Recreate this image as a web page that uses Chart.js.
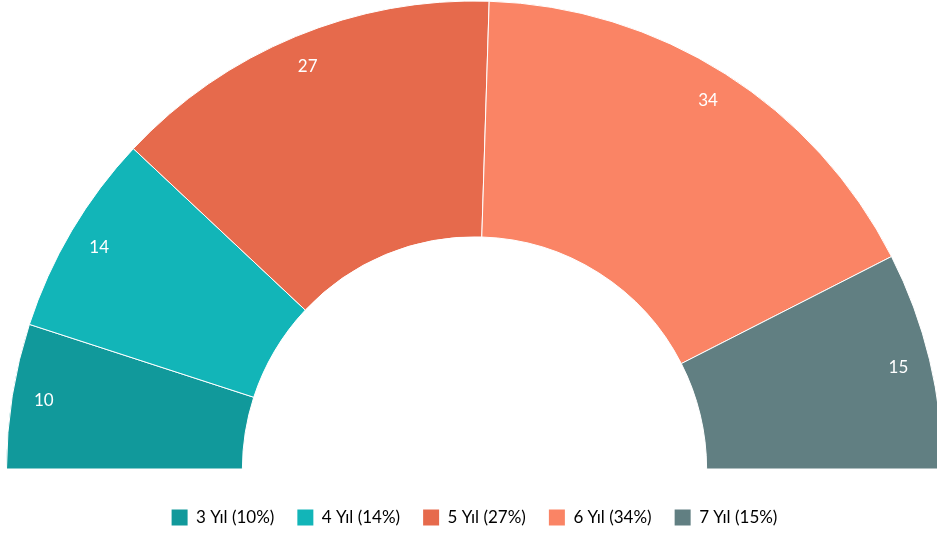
<!DOCTYPE html>
<html>
<head>
<meta charset="utf-8">
<script src="https://cdn.jsdelivr.net/npm/chart.js@4"></script>
<style>
  html, body { margin: 0; padding: 0; background: #fff; }
  #wrap { width: 937px; height: 536px; }
</style>
</head>
<body>
<div id="wrap"><canvas id="c" width="937" height="536"></canvas></div>
<script>
const categories = ['3 Yıl', '4 Yıl', '5 Yıl', '6 Yıl', '7 Yıl'];
const values = [10, 14, 27, 34, 15];
const colors = ['#11999b', '#12b5b8', '#e66a4c', '#fa8465', '#617f82'];

const total = values.reduce((a, b) => a + b, 0);

// keep the half-ring's area a bit above the legend, like the reference
const areaFit = {
  id: 'areaFit',
  afterLayout(chart) {
    chart.chartArea.top = 0;
    chart.chartArea.bottom = 470;
    chart.chartArea.height = 470;
  }
};

const valueLabels = {
  id: 'valueLabels',
  afterDatasetsDraw(chart) {
    const ctx = chart.ctx;
    const meta = chart.getDatasetMeta(0);
    ctx.save();
    ctx.fillStyle = '#ffffff';
    ctx.font = '17px Lato';
    ctx.textAlign = 'center';
    ctx.textBaseline = 'middle';
    meta.data.forEach((arc, i) => {
      const p = arc.getProps(['x', 'y', 'startAngle', 'endAngle', 'outerRadius'], true);
      const mid = (p.startAngle + p.endAngle) / 2;
      const r = p.outerRadius - 32;
      ctx.fillText(String(chart.data.datasets[0].data[i]), p.x + Math.cos(mid) * r, p.y + Math.sin(mid) * r);
    });
    ctx.restore();
  }
};

new Chart(document.getElementById('c'), {
  type: 'doughnut',
  data: {
    labels: categories,
    datasets: [{
      data: values,
      backgroundColor: colors,
      borderColor: '#ffffff',
      borderWidth: 1
    }]
  },
  options: {
    responsive: false,
    animation: false,
    rotation: -90,
    circumference: 180,
    radius: 468,
    cutout: '49.6%',
    layout: { padding: { left: 12, top: 0, right: 0, bottom: 0 } },
    plugins: {
      tooltip: { enabled: false },
      legend: {
        position: 'bottom',
        labels: {
          boxWidth: 16,
          boxHeight: 16,
          padding: 23,
          color: '#666666',
          font: { family: 'Lato', size: 17 },
          generateLabels(chart) {
            const ds = chart.data.datasets[0];
            return chart.data.labels.map((l, i) => ({
              text: l + ' (' + Math.round(ds.data[i] / total * 100) + '%)',
              fillStyle: ds.backgroundColor[i],
              strokeStyle: ds.backgroundColor[i],
              lineWidth: 0,
              hidden: false,
              index: i
            }));
          }
        }
      }
    }
  },
  plugins: [areaFit, valueLabels]
});
</script>
</body>
</html>
